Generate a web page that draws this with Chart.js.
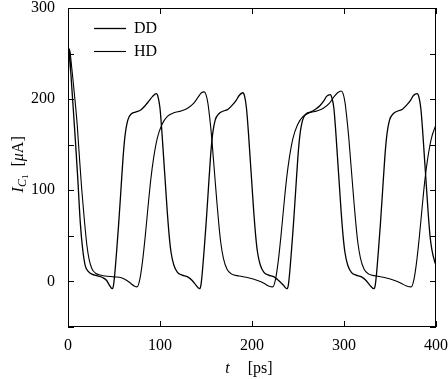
<!DOCTYPE html>
<html lang="en">
<head>
<meta charset="UTF-8" />
<title>I_C1 vs t</title>
<script src="https://cdn.jsdelivr.net/npm/chart.js"></script>
<style>
  html, body { margin: 0; padding: 0; background: #fff; }
</style>
</head>
<body>
<canvas id="chart" width="448" height="379"></canvas>
<script>
  // time [ps] and current [uA]
  const ddTime = [0, 1.5, 3, 5, 8, 10.5, 13.4, 16, 18.8, 22, 26, 32, 38, 42, 45,
    48, 49.5, 51, 53, 55, 57.5, 60, 62, 65, 69, 74, 79, 84, 88, 92, 96,
    98, 100, 102, 104, 106, 108, 110, 112, 115, 119, 124, 130, 135, 139,
    143, 144.5, 146, 148, 150, 152.5, 155, 157, 160, 164, 169, 174, 179, 183, 186, 190,
    192, 194, 196, 198, 200, 202, 204, 206, 209, 213, 218, 224, 229, 234,
    238, 239.5, 241, 243, 245, 247.5, 250, 252, 255, 259, 264, 269, 274, 278, 281, 285,
    287, 289, 291, 293, 295, 297, 299, 301, 304, 308, 313, 319, 324, 328,
    332.5, 334, 335.5, 337.5, 339.5, 342, 344.5, 346.5, 349.5, 353.5, 358.5, 363.5, 368.5, 372.5, 375.5, 379.5,
    381.5, 383.5, 385.5, 387.5, 389.5, 391.5, 393.5, 395.5, 398.5, 400];
  const ddCurrent = [215, 255, 230, 200, 155, 115, 64, 35, 17, 11, 8, 6, 4, 1, -4,
    -8, -4, 10, 35, 62, 100, 138, 160, 177, 184, 186, 188, 193, 198, 203, 206,
    202, 190, 165, 135, 105, 75, 50, 32, 18, 10, 7, 5, 1, -4,
    -8, -4, 10, 35, 62, 100, 138, 160, 177, 184, 187, 189, 194, 199, 204, 207,
    203, 190, 165, 135, 105, 75, 50, 32, 18, 10, 7, 5, 1, -4,
    -8, -4, 10, 35, 62, 100, 138, 160, 177, 184, 186, 189, 193, 198, 203, 205,
    201, 190, 165, 135, 105, 75, 50, 32, 18, 10, 7, 5, 1, -4,
    -8, -4, 10, 35, 62, 100, 138, 160, 177, 184, 187, 189, 194, 199, 204, 206,
    202, 190, 165, 135, 105, 75, 50, 35, 22, 18];

  const hdTime = [0, 1.5, 4, 7, 10, 12.5, 15, 18, 20.5, 23, 26, 30, 35, 40, 50, 58, 64, 68, 72,
    75, 78, 81, 84, 87, 90, 93, 97, 102, 108, 115, 123, 130, 137, 142, 145, 148,
    150, 152, 154, 156, 158, 160, 162, 164, 166, 169, 173, 178, 186, 196, 206, 213, 218,
    222.5, 225.5, 228.5, 231.5, 234.5, 237.5, 240.5, 244.5, 249.5, 255.5, 262.5, 270.5, 277.5, 284.5, 289.5, 293, 297,
    299, 301, 303, 305, 307, 309, 311, 313, 315, 318, 322, 327, 335, 345, 355, 362, 368,
    373, 376, 379, 382, 385, 388, 391, 395, 400];
  const hdCurrent = [215, 255, 235, 205, 172, 135, 100, 65, 40, 24, 14, 9, 7, 6, 5, 4, 1, -2, -5,
    -6, 2, 22, 50, 82, 112, 135, 157, 172, 181, 185, 187, 190, 196, 203, 207, 208,
    205, 196, 180, 160, 135, 110, 85, 62, 43, 25, 13, 8, 6, 4, 1, -2, -5,
    -6, 2, 22, 50, 82, 112, 135, 157, 172, 181, 185, 187, 190, 196, 203, 207, 209,
    206, 197, 180, 160, 135, 110, 85, 62, 43, 25, 13, 8, 6, 4, 1, -2, -5,
    -6, 2, 22, 50, 82, 112, 135, 157, 172];

  const xTicks = [0, 100, 200, 300, 400];
  const yTicks = [-50, 0, 50, 100, 150, 200, 250, 300];
  const yLabels = [0, 100, 200, 300];

  const serif = '"Liberation Serif", "Times New Roman", serif';

  const toPoints = (ts, vs) => ts.map((t, i) => ({ x: t, y: vs[i] }));

  // frame, inward ticks, legend and axis titles
  const frame = {
    id: 'frame',
    afterDraw(chart) {
      const { ctx, chartArea: a, scales: { x, y } } = chart;
      ctx.save();
      ctx.strokeStyle = '#000';
      ctx.lineWidth = 1;
      ctx.strokeRect(a.left + 0.5, a.top + 0.5, a.right - a.left - 1, a.bottom - a.top - 1);
      ctx.beginPath();
      xTicks.forEach(v => {
        const px = Math.round(x.getPixelForValue(v)) + 0.5;
        ctx.moveTo(px, a.bottom); ctx.lineTo(px, a.bottom - 6);
        ctx.moveTo(px, a.top); ctx.lineTo(px, a.top + 6);
      });
      yTicks.forEach(v => {
        const py = Math.round(y.getPixelForValue(v)) + 0.5;
        ctx.moveTo(a.left, py); ctx.lineTo(a.left + 6, py);
        ctx.moveTo(a.right, py); ctx.lineTo(a.right - 6, py);
      });
      ctx.stroke();

      // legend
      chart.data.datasets.forEach((ds, i) => {
        const ly = 28 + i * 23;
        ctx.beginPath();
        ctx.lineWidth = ds.borderWidth;
        ctx.moveTo(94, ly + 0.5); ctx.lineTo(126, ly + 0.5);
        ctx.stroke();
        ctx.fillStyle = '#000';
        ctx.font = '16px ' + serif;
        ctx.textBaseline = 'middle';
        ctx.textAlign = 'left';
        ctx.fillText(ds.label, 134, ly + 1);
      });

      // x title
      ctx.textBaseline = 'alphabetic';
      ctx.font = 'italic 16px ' + serif;
      const tW = ctx.measureText('t').width;
      ctx.font = '16px ' + serif;
      const psW = ctx.measureText('[ps]').width;
      let sx = (a.left + a.right) / 2 - 3 - (tW + 18 + psW) / 2;
      ctx.font = 'italic 16px ' + serif;
      ctx.fillText('t', sx, 373);
      ctx.font = '16px ' + serif;
      ctx.fillText('[ps]', sx + tW + 18, 373);

      // y title
      const parts = [
        { t: 'I', f: 'italic 17px ' + serif, dy: 0 },
        { t: 'C', f: 'italic 12px ' + serif, dy: 3 },
        { t: '1', f: '9px ' + serif, dy: 5 },
        { t: '  [', f: '16px ' + serif, dy: 0 },
        { t: 'μ', f: 'italic 16px ' + serif, dy: 0 },
        { t: 'A]', f: '16px ' + serif, dy: 0 }
      ];
      let total = 0;
      parts.forEach(p => { ctx.font = p.f; p.w = ctx.measureText(p.t).width; total += p.w; });
      ctx.translate(17, (a.top + a.bottom) / 2 - 3);
      ctx.rotate(-Math.PI / 2);
      let cx = -total / 2;
      parts.forEach(p => {
        ctx.font = p.f;
        ctx.fillText(p.t, cx, 6 + p.dy);
        cx += p.w;
      });
      ctx.restore();
    }
  };

  new Chart(document.getElementById('chart'), {
    type: 'line',
    data: {
      datasets: [
        {
          label: 'DD',
          data: toPoints(ddTime, ddCurrent),
          borderColor: '#000',
          borderWidth: 1.3,
          pointRadius: 0,
          fill: false,
          cubicInterpolationMode: 'monotone'
        },
        {
          label: 'HD',
          data: toPoints(hdTime, hdCurrent),
          borderColor: '#000',
          borderWidth: 1.1,
          pointRadius: 0,
          fill: false,
          cubicInterpolationMode: 'monotone'
        }
      ]
    },
    options: {
      responsive: false,
      animation: false,
      layout: { padding: { left: 0, top: 8, right: 12, bottom: 0 } },
      plugins: { legend: { display: false }, tooltip: { enabled: false } },
      scales: {
        x: {
          type: 'linear',
          min: 0,
          max: 400,
          afterBuildTicks: s => { s.ticks = xTicks.map(v => ({ value: v })); },
          afterFit: s => { s.height = 52; s.paddingLeft = 0; s.paddingRight = 0; },
          grid: { display: false, drawTicks: false },
          border: { display: false },
          ticks: { color: '#000', font: { family: serif, size: 16 }, padding: 9, maxRotation: 0 }
        },
        y: {
          type: 'linear',
          min: -50,
          max: 300,
          afterBuildTicks: s => { s.ticks = yTicks.map(v => ({ value: v })); },
          afterFit: s => { s.width = 68; s.paddingTop = 0; s.paddingBottom = 0; },
          grid: { display: false, drawTicks: false },
          border: { display: false },
          ticks: {
            color: '#000',
            font: { family: serif, size: 16, lineHeight: 1 },
            padding: 13,
            callback: v => yLabels.includes(v) ? String(v) : ''
          }
        }
      }
    },
    plugins: [frame]
  });
</script>
</body>
</html>
